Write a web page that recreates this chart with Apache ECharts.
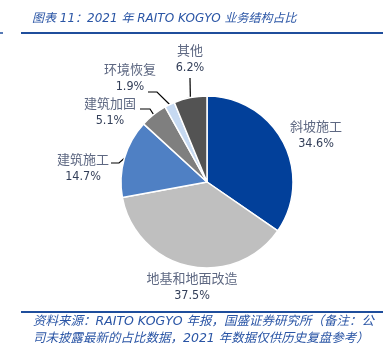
<!DOCTYPE html>
<html>
<head>
<meta charset="utf-8">
<script src="https://cdn.jsdelivr.net/npm/echarts@6/dist/echarts.min.js"></script>
<style>
  html, body { margin: 0; padding: 0; background: #fff; }
  #chart { width: 388px; height: 353px; }
</style>
</head>
<body>
<div id="chart"></div>
<script>
// segment names and shares (%)
const names = ['斜坡施工', '地基和地面改造', '建筑施工', '建筑加固', '环境恢复', '其他']
const shares = [34.6, 37.5, 14.7, 5.1, 1.9, 6.2]
const colors = ['#02409a', '#bfbfbf', '#4f80c4', '#7f7f7f', '#c6d9f1', '#535353']

// where each label sits and how its leader line bends (null = no line)
const labelPos = [[316, 135], [192, 287], [83, 168], [110, 112], [130, 78], [190, 59]]
const guides = [null, null, [[119, 163], [111, 163]], [[150, 109], [140, 109]], [[157, 92], [148, 92]], [[190, 78]]]

const title = '图表 11：2021 年 RAITO KOGYO 业务结构占比'
const source = [
  '资料来源：RAITO KOGYO 年报，国盛证券研究所（备注：公',
  '司未披露最新的占比数据，2021 年数据仅供历史复盘参考）'
]

const blue = '#1f4e9c'
const chart = echarts.init(document.getElementById('chart'))

chart.setOption({
  animation: false,
  graphic: [
    { type: 'line', shape: { x1: 0, y1: 33, x2: 3, y2: 33 }, style: { stroke: blue, lineWidth: 1.5 } },
    { type: 'line', shape: { x1: 21, y1: 33, x2: 383, y2: 33 }, style: { stroke: blue, lineWidth: 2 } },
    { type: 'line', shape: { x1: 21, y1: 312, x2: 383, y2: 312 }, style: { stroke: blue, lineWidth: 2 } },
    {
      type: 'text', left: 32, top: 13,
      style: { text: title, fill: '#2a55a5', font: 'italic 12px "DejaVu Sans", "Noto Sans CJK SC"' }
    },
    {
      type: 'text', left: 33, top: 313,
      style: {
        text: source.join('\n'), fill: '#2a55a5', lineHeight: 17,
        font: 'italic 12.5px "DejaVu Sans", "Noto Sans CJK SC"'
      }
    }
  ],
  series: [
    {
      type: 'pie',
      center: [207, 182],
      radius: 86,
      startAngle: 90,
      clockwise: true,
      avoidLabelOverlap: false,
      itemStyle: { borderColor: '#fff', borderWidth: 1.5 },
      label: {
        position: 'outside',
        formatter: '{n|{b}}\n{p|{c}%}',
        align: 'center',
        rich: {
          n: { fontSize: 13, color: '#5e6882', fontFamily: 'Noto Sans CJK SC', lineHeight: 18, align: 'center' },
          p: { fontSize: 12.5, color: '#323e58', fontFamily: 'Tahoma, "DejaVu Sans Condensed", "DejaVu Sans"', lineHeight: 18, align: 'center' }
        }
      },
      labelLine: { show: true, lineStyle: { color: '#000', width: 1.2 } },
      labelLayout: params => {
        const i = params.dataIndex
        const out = { x: labelPos[i][0], y: labelPos[i][1], align: 'center', verticalAlign: 'middle' }
        if (guides[i] && params.labelLinePoints) {
          out.labelLinePoints = [params.labelLinePoints[0]].concat(guides[i])
        }
        return out
      },
      data: names.map((n, i) => ({
        name: n,
        value: shares[i],
        itemStyle: { color: colors[i] },
        labelLine: { show: !!guides[i] }
      }))
    }
  ]
})
</script>
</body>
</html>
